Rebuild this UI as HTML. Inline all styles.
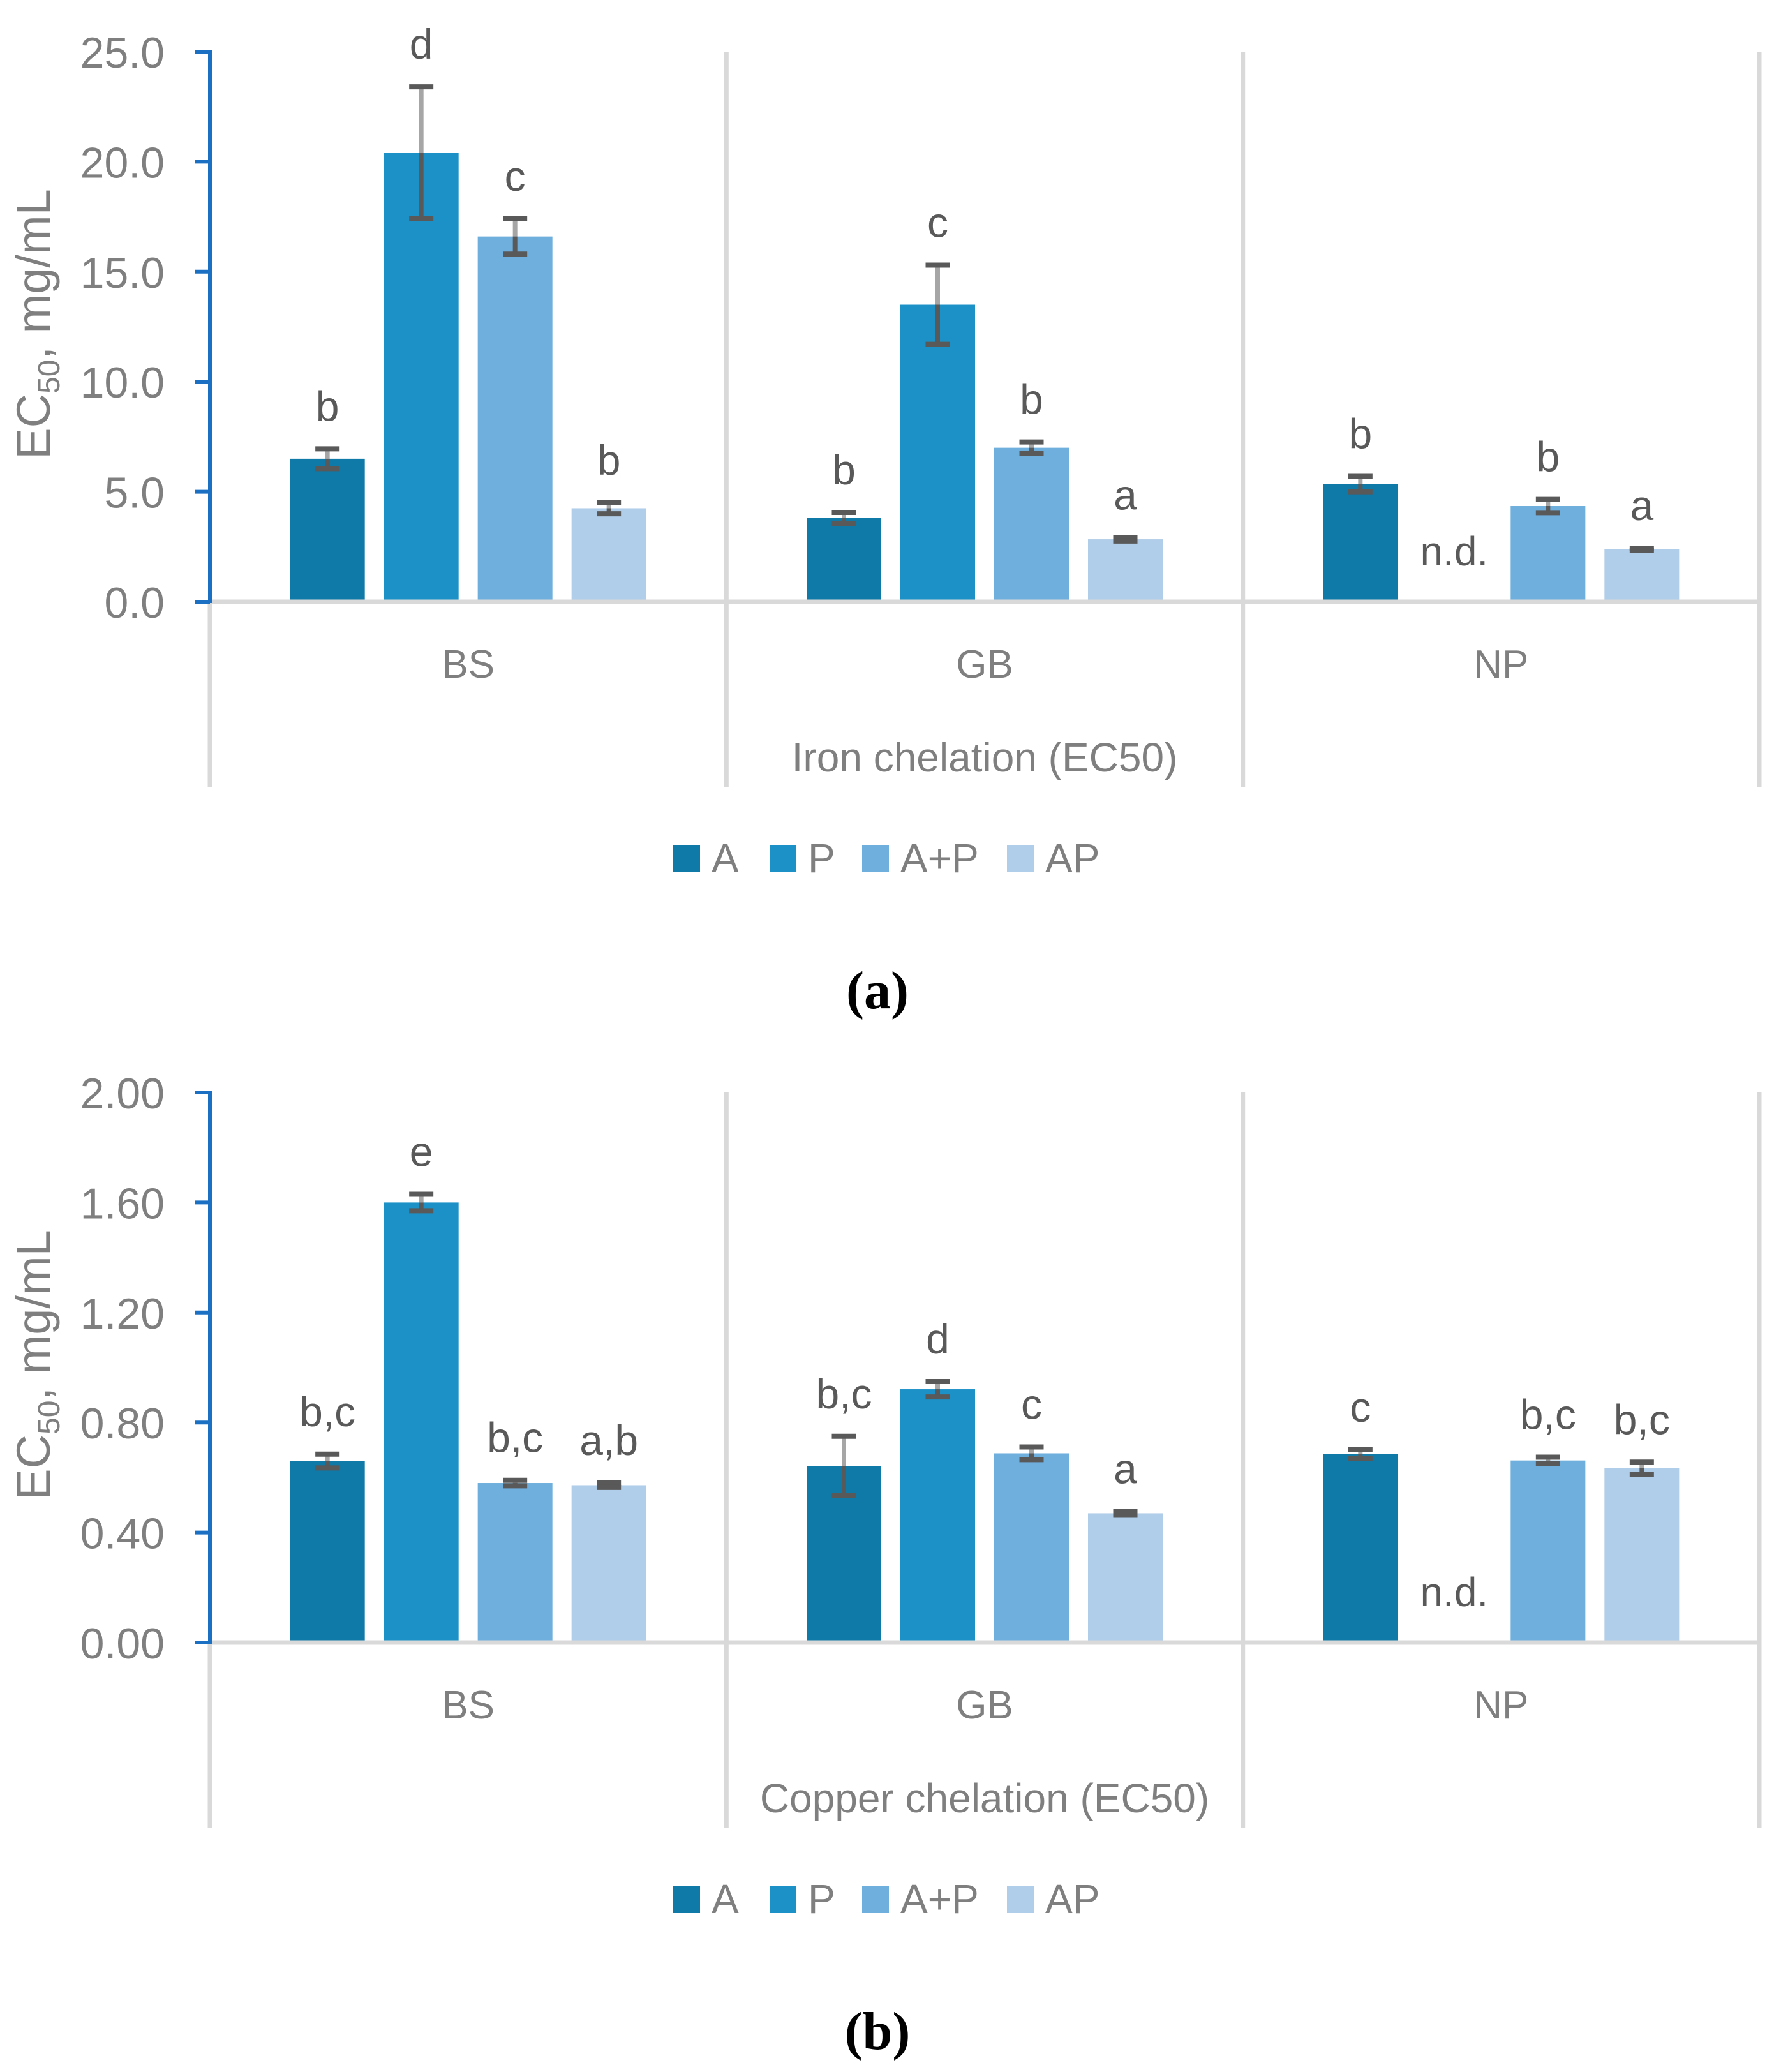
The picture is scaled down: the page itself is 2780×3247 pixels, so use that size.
<!DOCTYPE html>
<html><head><meta charset="utf-8"><style>
html,body{margin:0;padding:0;background:#fff;}
svg{display:block;font-family:"Liberation Sans",Arial,sans-serif;}
</style></head><body>
<svg id="fig" width="2780" height="3247" viewBox="0 0 2780 3247" xmlns="http://www.w3.org/2000/svg"></svg>
<script>
// ---- data ----
const categories = ["BS","GB","NP"];
const seriesNames = ["A","P","A+P","AP"];
const seriesColors = ["#0f79a8","#1b91c8","#6fafdd","#b0cde9"];
// chart a: iron chelation
const ironA = [6.5, 3.8, 5.35];
const ironP = [20.4, 13.5, null];
const ironAP_mix = [16.6, 7.0, 4.35];
const ironAP = [4.25, 2.84, 2.38];
const ironErrA = [0.45, 0.26, 0.35];
const ironErrP = [3.0, 1.8, 0];
const ironErrMix = [0.8, 0.26, 0.3];
const ironErrAP = [0.25, 0.08, 0.05];
const ironLetters = [["b","d","c","b"],["b","c","b","a"],["b","n.d.","b","a"]];
const ironTicks = ["0.0","5.0","10.0","15.0","20.0","25.0"];
// chart b: copper chelation
const copperA = [0.66, 0.642, 0.685];
const copperP = [1.60, 0.921, null];
const copperMix = [0.58, 0.688, 0.662];
const copperAP = [0.572, 0.470, 0.634];
const copperErrA = [0.025, 0.108, 0.016];
const copperErrP = [0.03, 0.028, 0];
const copperErrMix = [0.01, 0.023, 0.012];
const copperErrAP = [0.008, 0.007, 0.022];
const copperLetters = [["b,c","e","b,c","a,b"],["b,c","d","c","a"],["c","n.d.","b,c","b,c"]];
const copperTicks = ["0.00","0.40","0.80","1.20","1.60","2.00"];

const NS="http://www.w3.org/2000/svg";
const svg=document.getElementById('fig');
function mk(tag,attrs,parent,text){const e=document.createElementNS(NS,tag);for(const k in attrs)e.setAttribute(k,attrs[k]);if(text!==undefined)e.textContent=text;(parent||svg).appendChild(e);return e;}

function chart(opt){
  const g=mk('g',{});
  
  
  const x0=329, x1=2757, top=opt.top, zero=opt.top+862, bottom=opt.top+1153;
  const ymax=opt.ymax;
  const y=v=>zero-(v/ymax)*(zero-top);
  const cw=(x1-x0)/3;
  const cx=i=>x0+cw*(i+0.5);
  const bw=117, step=147;
  for(let i=1;i<=3;i++){
    const l=mk('line',{x1:x0+cw*i,x2:x0+cw*i,y1:top,y2:bottom,stroke:'#d9d9d9','stroke-width':7},g);
    
    
  }
  const ll=mk('line',{x1:x0,x2:x0,y1:zero,y2:bottom,stroke:'#d9d9d9','stroke-width':7},g);
  
  
  opt.series.forEach((vals,s)=>{
    vals.forEach((v,i)=>{
      const bx=cx(i)+(s-1.5)*step-bw/2;
      const bcx=cx(i)+(s-1.5)*step;
      const lab=opt.letters[i][s];
      if(v===null){
        const t=mk('text',{x:bcx,y:opt.ndY,'text-anchor':'middle','font-size':64,fill:'#595959'},g,lab);
        
        
        return;
      }
      const r=mk('rect',{x:bx,y:y(v),width:bw,height:zero-y(v),fill:seriesColors[s]},g);
      
      
      const e=opt.errs[s][i];
      const eg=mk('g',{},g);
      
      
      mk('line',{x1:bcx,x2:bcx,y1:y(v),y2:y(v+e),stroke:'#a6a6a6','stroke-width':7},eg);
      mk('line',{x1:bcx,x2:bcx,y1:y(v-e),y2:y(v),stroke:'#595959','stroke-width':7},eg);
      mk('line',{x1:bcx-19,x2:bcx+19,y1:y(v+e),y2:y(v+e),stroke:'#595959','stroke-width':8},eg);
      mk('line',{x1:bcx-19,x2:bcx+19,y1:y(v-e),y2:y(v-e),stroke:'#595959','stroke-width':8},eg);
      const t=mk('text',{x:bcx,y:y(v+e)-44,'text-anchor':'middle','font-size':66,fill:'#595959'},g,lab);
      
      
    });
  });
  const xa=mk('line',{x1:x0,x2:x1+3,y1:zero,y2:zero,stroke:'#d9d9d9','stroke-width':7},g);
  
  
  const ya=mk('line',{x1:x0,x2:x0,y1:top-2,y2:zero+2,stroke:'#1c70c4','stroke-width':6},g);
  
  
  opt.ticks.forEach((tk,k)=>{
    const ty=zero-(zero-top)*k/(opt.ticks.length-1);
    mk('line',{x1:305,x2:x0,y1:ty,y2:ty,stroke:'#1c70c4','stroke-width':6},g);
    const t=mk('text',{x:258,y:ty+25,'text-anchor':'end','font-size':68,fill:'#7f7f7f'},g,tk);
    
    
  });
  const yt=mk('text',{transform:`translate(78,${top+427}) rotate(-90)`,'text-anchor':'middle','font-size':74,fill:'#7f7f7f'},g);
  
  
  mk('tspan',{},yt,'EC');
  mk('tspan',{'font-size':48,dy:15},yt,'50');
  mk('tspan',{dy:-15},yt,', mg/mL');
  categories.forEach((c,i)=>{
    const t=mk('text',{x:cx(i),y:top+981,'text-anchor':'middle','font-size':62,fill:'#7f7f7f'},g,c);
    
    
  });
  const xt=mk('text',{x:(x0+x1)/2,y:top+1128,'text-anchor':'middle','font-size':64,fill:'#7f7f7f'},g,opt.xtitle);
  
  
  const lg=mk('g',{},g);
  
  
  const lx=[1055,1206,1351,1578];
  seriesNames.forEach((n,s)=>{
    const eg=mk('g',{},lg);
    
    
    mk('rect',{x:lx[s],y:top+1243,width:42,height:43,fill:seriesColors[s]},eg);
    mk('text',{x:lx[s]+60,y:top+1286,'font-size':64,fill:'#7f7f7f'},eg,n);
  });
  const pl=mk('text',{x:1375,y:top+1499,'text-anchor':'middle','font-size':84,'font-weight':'bold','font-family':'"Liberation Serif",serif',fill:'#000'},g,opt.panel);
  
  
}
chart({name:'iron-chelation-chart',top:81,ymax:25,series:[ironA,ironP,ironAP_mix,ironAP],errs:[ironErrA,ironErrP,ironErrMix,ironErrAP],letters:ironLetters,ticks:ironTicks,xtitle:'Iron chelation (EC50)',panel:'(a)',ndY:886});
chart({name:'copper-chelation-chart',top:1712,ymax:2,series:[copperA,copperP,copperMix,copperAP],errs:[copperErrA,copperErrP,copperErrMix,copperErrAP],letters:copperLetters,ticks:copperTicks,xtitle:'Copper chelation (EC50)',panel:'(b)',ndY:2517});
</script>
</body></html>
